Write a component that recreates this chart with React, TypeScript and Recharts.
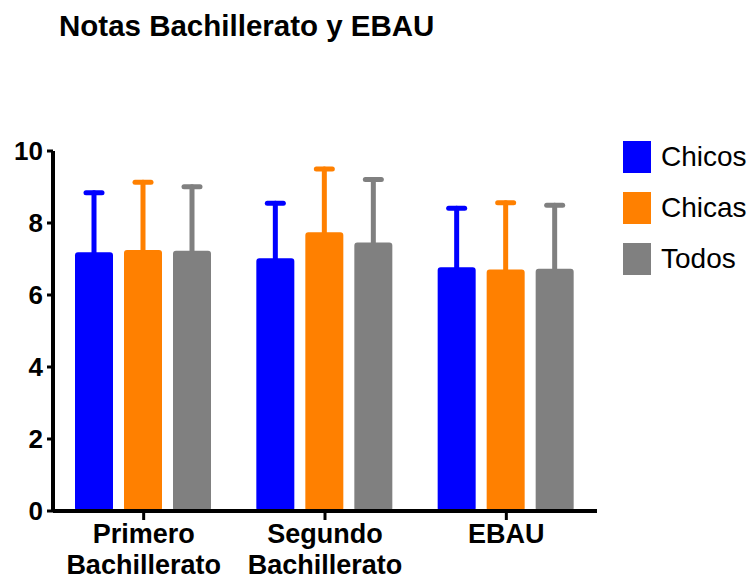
import React from 'react';
import { BarChart, Bar, XAxis, YAxis, ErrorBar, Legend } from 'recharts';

const categories = ['Primero Bachillerato', 'Segundo Bachillerato', 'EBAU'];
const seriesNames = ['Chicos', 'Chicas', 'Todos'];
const chicosMean = [7.19, 7.02, 6.77];
const chicosSD = [1.65, 1.53, 1.64];
const chicasMean = [7.25, 7.74, 6.71];
const chicasSD = [1.88, 1.76, 1.85];
const todosMean = [7.23, 7.46, 6.73];
const todosSD = [1.78, 1.75, 1.76];
const yTicks = [0, 2, 4, 6, 8, 10];
const colors = ['#0000FF', '#FF8000', '#808080'];

const FONT = '"Liberation Sans", Arial, Helvetica, sans-serif';

const data = categories.map((c, i) => ({
  name: c,
  chicos: chicosMean[i],
  chicosErr: [0, chicosSD[i]],
  chicas: chicasMean[i],
  chicasErr: [0, chicasSD[i]],
  todos: todosMean[i],
  todosErr: [0, todosSD[i]],
}));

const XTick = (props: any) => {
  const { x, y, payload } = props;
  const words = String(payload.value).split(' ');
  return (
    <text x={x} y={y} textAnchor="middle" fontFamily={FONT} fontWeight="bold" fontSize={27} fill="#000">
      {words.map((w, i) => (
        <tspan key={i} x={x} dy={i === 0 ? 21 : 31}>{w}</tspan>
      ))}
    </text>
  );
};

const renderLegend = (props: any) => {
  const payload = [...(props.payload || [])].sort(
    (a: any, b: any) => seriesNames.indexOf(a.value) - seriesNames.indexOf(b.value)
  );
  return (
    <div>
      {payload.map((e: any, i: number) => (
        <div key={i} style={{ display: 'flex', alignItems: 'center', height: 50.7 }}>
          <span style={{ width: 28, height: 32, background: e.color, display: 'inline-block', marginRight: 10 }} />
          <span style={{ fontSize: 28, fontFamily: FONT, color: '#000' }}>{e.value}</span>
        </div>
      ))}
    </div>
  );
};

export default function App() {
  return (
    <div style={{ position: 'absolute', left: 0, top: 0, width: 753, height: 582 }}>
      <style>{`.recharts-errorBar > line:last-of-type { display: none; }`}</style>
      <div
        style={{
          position: 'absolute',
          left: 59,
          top: 10,
          fontFamily: FONT,
          fontWeight: 'bold',
          fontSize: 29.5,
          lineHeight: '32px',
          color: '#000',
          whiteSpace: 'nowrap',
        }}
      >
        Notas Bachillerato y EBAU
      </div>
      <BarChart
        width={753}
        height={582}
        data={data}
        margin={{ top: 151, left: 8, right: 156, bottom: 11 }}
        barCategoryGap={22}
        barGap={11}
      >
        <XAxis
          dataKey="name"
          tick={<XTick />}
          tickLine={{ stroke: '#000', strokeWidth: 3 }}
          axisLine={{ stroke: '#000', strokeWidth: 4 }}
          tickSize={9}
          height={60}
          interval={0}
        />
        <YAxis
          domain={[0, 10]}
          ticks={yTicks}
          width={45}
          tick={{ fontSize: 26, fontWeight: 'bold', fill: '#000', fontFamily: FONT }}
          tickLine={{ stroke: '#000', strokeWidth: 3 }}
          axisLine={{ stroke: '#000', strokeWidth: 4 }}
          tickSize={6}
          tickMargin={4}
          allowDataOverflow
        />
        <Legend
          content={renderLegend}
          layout="horizontal"
          verticalAlign="middle"
          align="center"
          wrapperStyle={{ position: 'absolute', left: 623, top: 132, width: 130 }}
        />
        <Bar dataKey="chicos" name={seriesNames[0]} fill={colors[0]} radius={3} isAnimationActive={false}>
          <ErrorBar dataKey="chicosErr" width={8} stroke={colors[0]} strokeWidth={5} strokeLinecap="round" direction="y" />
        </Bar>
        <Bar dataKey="chicas" name={seriesNames[1]} fill={colors[1]} radius={3} isAnimationActive={false}>
          <ErrorBar dataKey="chicasErr" width={8} stroke={colors[1]} strokeWidth={5} strokeLinecap="round" direction="y" />
        </Bar>
        <Bar dataKey="todos" name={seriesNames[2]} fill={colors[2]} radius={3} isAnimationActive={false}>
          <ErrorBar dataKey="todosErr" width={8} stroke={colors[2]} strokeWidth={5} strokeLinecap="round" direction="y" />
        </Bar>
      </BarChart>
    </div>
  );
}
